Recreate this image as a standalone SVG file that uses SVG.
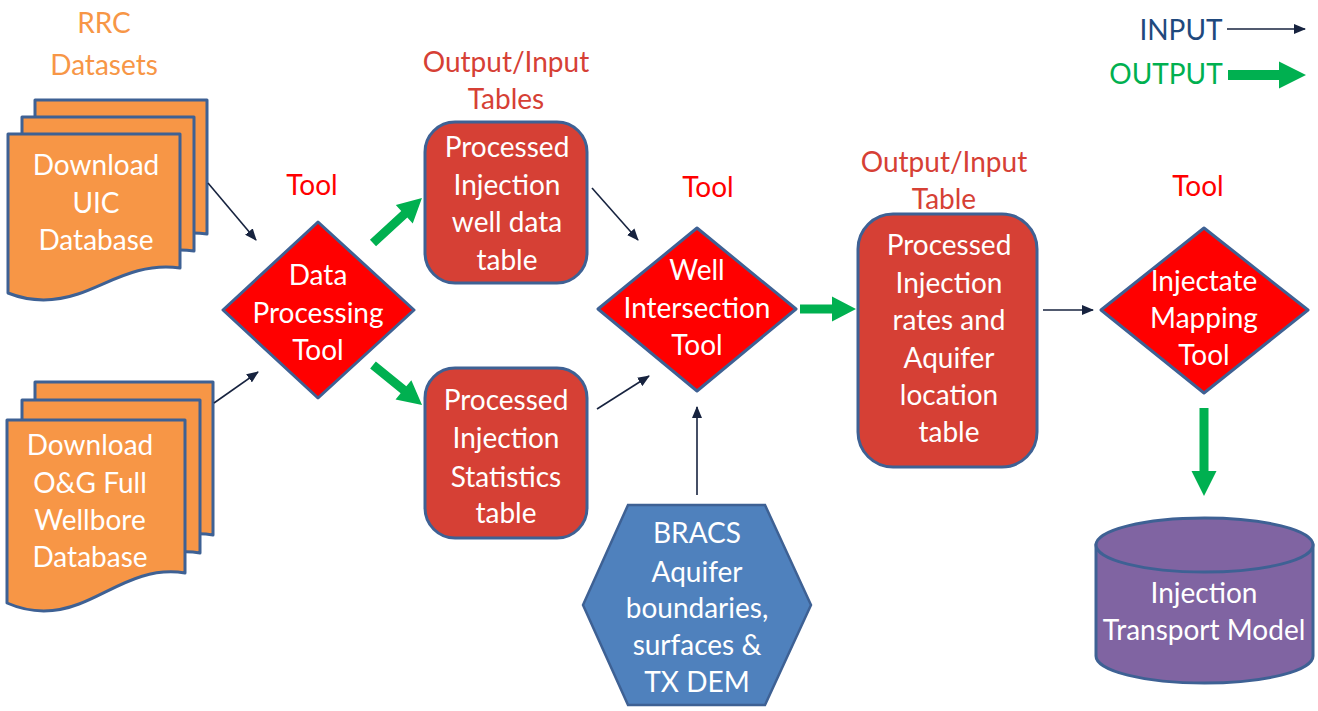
<svg xmlns="http://www.w3.org/2000/svg" width="1318" height="711" viewBox="0 0 1318 711">
<defs>
<style>
text{font-family:Lato,"Liberation Sans",sans-serif;text-anchor:middle}
.w{fill:#ffffff;font-size:28px}
.lbl{font-size:28px}
.doc{fill:#F79646;stroke:#3E6194;stroke-width:3;stroke-linejoin:round}
.dia{fill:#FF0000;stroke:#3E6194;stroke-width:3;stroke-linejoin:round}
.tbl{fill:#D64035;stroke:#3E6194;stroke-width:3}
.thin{stroke:#17233F;stroke-width:1.6;fill:none;marker-end:url(#ah)}
.green{fill:#00B050}
</style>
<marker id="ah" markerUnits="userSpaceOnUse" markerWidth="12" markerHeight="10" refX="11" refY="5" orient="auto">
<path d="M0,0 L12,5 L0,10 z" fill="#17233F"/>
</marker>
<path id="docA" d="M0,0 H172 V134 C130,128 100,150 70,160 C40,170 15,165 0,159 Z"/>
<path id="docB" d="M0,0 H178 V153 C135,146 104,172 72,184 C41,196 16,190 0,183 Z"/>
</defs>
<rect width="1318" height="711" fill="#ffffff"/>

<g id="labels">
<text class="lbl" x="104" y="33" fill="#F79646">RRC</text>
<text class="lbl" x="104" y="75" fill="#F79646">Datasets</text>
<text class="lbl" x="506" y="72" fill="#D64035">Output/Input</text>
<text class="lbl" x="506" y="109" fill="#D64035">Tables</text>
<text class="lbl" x="312" y="195" fill="#FF0000">Tool</text>
<text class="lbl" x="708" y="197" fill="#FF0000">Tool</text>
<text class="lbl" x="944" y="172" fill="#D64035">Output/Input</text>
<text class="lbl" x="944" y="209" fill="#D64035">Table</text>
<text class="lbl" x="1198" y="196" fill="#FF0000">Tool</text>
</g>

<g id="legend">
<text class="lbl" x="1181" y="40" fill="#1F497D">INPUT</text>
<line x1="1227" y1="29" x2="1305" y2="29" class="thin"/>
<text class="lbl" x="1166" y="84" fill="#00B050">OUTPUT</text>
<polygon class="green" transform="translate(1228,75)" points="0,-5 51,-5 51,-13.5 78,0 51,13.5 51,5 0,5"/>
</g>

<g id="uic-db">
<use href="#docA" class="doc" x="35" y="100"/>
<use href="#docA" class="doc" x="22" y="117"/>
<use href="#docA" class="doc" x="8" y="134"/>
<text class="w" x="96" y="175">Download</text>
<text class="w" x="96" y="213">UIC</text>
<text class="w" x="96" y="250">Database</text>
</g>

<g id="og-db">
<use href="#docB" class="doc" x="35" y="382"/>
<use href="#docB" class="doc" x="22" y="400"/>
<use href="#docB" class="doc" x="7" y="420"/>
<text class="w" x="90" y="455">Download</text>
<text class="w" x="90" y="493">O&amp;G Full</text>
<text class="w" x="90" y="530">Wellbore</text>
<text class="w" x="90" y="567">Database</text>
</g>

<g id="data-processing-tool">
<polygon class="dia" points="318,222 414,310 318,398 223,310"/>
<text class="w" x="318" y="285">Data</text>
<text class="w" x="318" y="323">Processing</text>
<text class="w" x="318" y="360">Tool</text>
</g>

<g id="well-data-table">
<rect class="tbl" x="425" y="122" width="162" height="161" rx="30"/>
<text class="w" x="507" y="157">Processed</text>
<text class="w" x="507" y="195">Injection</text>
<text class="w" x="507" y="232">well data</text>
<text class="w" x="507" y="270">table</text>
</g>

<g id="statistics-table">
<rect class="tbl" x="425" y="368" width="162" height="170" rx="30"/>
<text class="w" x="506" y="410">Processed</text>
<text class="w" x="506" y="448">Injection</text>
<text class="w" x="506" y="487">Statistics</text>
<text class="w" x="506" y="523">table</text>
</g>

<g id="well-intersection-tool">
<polygon class="dia" points="697,228 796,309 697,391 598,309"/>
<text class="w" x="697" y="280">Well</text>
<text class="w" x="697" y="318">Intersection</text>
<text class="w" x="697" y="355">Tool</text>
</g>

<g id="bracs">
<polygon points="583,605 628,505 765,505 811,605 765,705 628,705" fill="#4F81BD" stroke="#3E6194" stroke-width="2.5"/>
<text class="w" x="697" y="543">BRACS</text>
<text class="w" x="697" y="582">Aquifer</text>
<text class="w" x="697" y="618">boundaries,</text>
<text class="w" x="697" y="655">surfaces &amp;</text>
<text class="w" x="697" y="692">TX DEM</text>
</g>

<g id="rates-table">
<rect class="tbl" x="858" y="214" width="179" height="253" rx="35"/>
<text class="w" x="949" y="255">Processed</text>
<text class="w" x="949" y="293">Injection</text>
<text class="w" x="949" y="330">rates and</text>
<text class="w" x="949" y="368">Aquifer</text>
<text class="w" x="949" y="405">location</text>
<text class="w" x="949" y="442">table</text>
</g>

<g id="injectate-mapping-tool">
<polygon class="dia" points="1204,228 1308,310 1204,393 1101,310"/>
<text class="w" x="1204" y="291">Injectate</text>
<text class="w" x="1204" y="328">Mapping</text>
<text class="w" x="1204" y="365">Tool</text>
</g>

<g id="transport-model">
<path d="M1096,545 V656 A108.5,27 0 0 0 1313,656 V545 Z" fill="#8064A2" stroke="#3E6194" stroke-width="3"/>
<ellipse cx="1204.5" cy="545" rx="108.5" ry="27" fill="#8064A2" stroke="#3E6194" stroke-width="3"/>
<text class="w" x="1204" y="603">Injection</text>
<text class="w" x="1204" y="640">Transport Model</text>
</g>

<g id="connectors">
<line class="thin" x1="208" y1="183" x2="256" y2="240"/>
<line class="thin" x1="214" y1="403" x2="258" y2="372"/>
<polygon class="green" transform="translate(373,243) rotate(-42.6)" points="0,-4.5 42.5,-4.5 42.5,-12.5 66.5,0 42.5,12.5 42.5,4.5 0,4.5"/>
<polygon class="green" transform="translate(373,365) rotate(39.2)" points="0,-4.5 39.3,-4.5 39.3,-12.5 63.3,0 39.3,12.5 39.3,4.5 0,4.5"/>
<line class="thin" x1="592" y1="188" x2="638" y2="240"/>
<line class="thin" x1="597" y1="409" x2="649" y2="376"/>
<line class="thin" x1="697" y1="495" x2="697" y2="407"/>
<polygon class="green" transform="translate(800,309)" points="0,-4.5 32,-4.5 32,-12.5 56,0 32,12.5 32,4.5 0,4.5"/>
<line class="thin" x1="1043" y1="310" x2="1093" y2="310"/>
<polygon class="green" transform="translate(1204,408) rotate(90)" points="0,-4.5 63,-4.5 63,-12.5 88,0 63,12.5 63,4.5 0,4.5"/>
</g>
</svg>
